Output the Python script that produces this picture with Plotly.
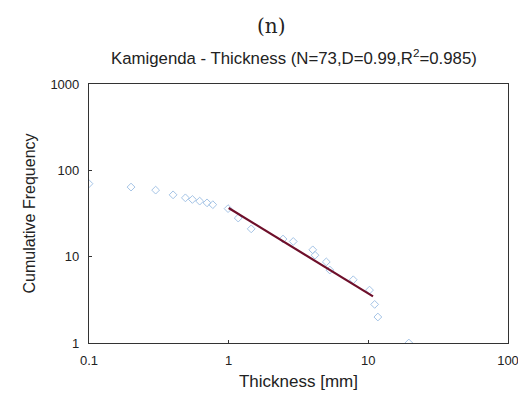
import plotly.graph_objects as go

# Cumulative frequency of layer thickness (log-log)
thickness_mm = [0.1, 0.2, 0.3, 0.4, 0.49, 0.55, 0.62, 0.70, 0.77, 0.99,
                1.17, 1.45, 2.45, 2.9, 4.0, 4.15, 5.0, 5.3, 7.8, 10.2,
                11.1, 11.7, 19.5]
cum_freq = [70, 64, 59, 52, 48, 46, 44, 42, 40, 36,
            28, 21, 16, 15, 12, 10.4, 8.7, 7.0, 5.4, 4.1,
            2.8, 2.0, 1.0]

# Power-law fit N = C * t^(-D)
fit_C = 36.6
fit_D = 0.99
fit_x = [1.0, 10.8]
fit_y = [fit_C * x ** (-fit_D) for x in fit_x]

panel_label = "(n)"
title_text = "Kamigenda - Thickness (N=73,D=0.99,R<sup>2</sup>=0.985)"
x_ticks = [0.1, 1, 10, 100]
x_labels = ["0.1", "1", "10", "100"]
y_ticks = [1, 10, 100, 1000]
y_labels = ["1", "10", "100", "1000"]

SANS = "Liberation Sans, Arial, sans-serif"
SERIF = "DejaVu Serif, Liberation Serif, serif"
INK = "#222"

fig = go.Figure()
fig.add_trace(go.Scatter(
    x=thickness_mm, y=cum_freq, mode="markers",
    marker=dict(symbol="diamond-open", size=6, color="#a5c4e6",
                line=dict(width=1, color="#a5c4e6")),
    showlegend=False))
fig.add_trace(go.Scatter(
    x=fit_x, y=fit_y, mode="lines",
    line=dict(color="#6e0f2a", width=2.2), showlegend=False))

tick_font = dict(family=SANS, size=13, color=INK)
common = dict(type="log", showgrid=False, zeroline=False, showline=True,
              mirror=True, linecolor="#333", linewidth=1.2, ticks="inside",
              ticklen=3, tickcolor="#333", tickfont=tick_font, automargin=False)

fig.update_xaxes(range=[-1, 2], tickvals=x_ticks, ticktext=x_labels,
                 ticklabelstandoff=5, ticklabeloverflow="allow",
                 title=dict(text="Thickness [mm]", standoff=8,
                            font=dict(family=SANS, size=17, color=INK)),
                 **common)
fig.update_yaxes(range=[0, 3], tickvals=y_ticks, ticktext=y_labels,
                 ticklabelstandoff=6,
                 title=dict(text="Cumulative Frequency", standoff=10,
                            font=dict(family=SANS, size=16, color=INK)),
                 **common)

fig.update_layout(
    width=518, height=394,
    margin=dict(l=89, r=10, t=84, b=51),
    paper_bgcolor="white", plot_bgcolor="white",
    annotations=[
        dict(text=title_text, xref="paper", yref="paper", x=0.49, y=1.0,
             yshift=27, showarrow=False, xanchor="center", yanchor="middle",
             font=dict(family=SANS, size=16.8, color=INK)),
        dict(text=panel_label, xref="paper", yref="paper", x=0.435, y=1.0,
             yshift=58, showarrow=False, xanchor="center", yanchor="middle",
             font=dict(family=SERIF, size=20, color=INK)),
    ],
)

fig.write_html("out.html")
